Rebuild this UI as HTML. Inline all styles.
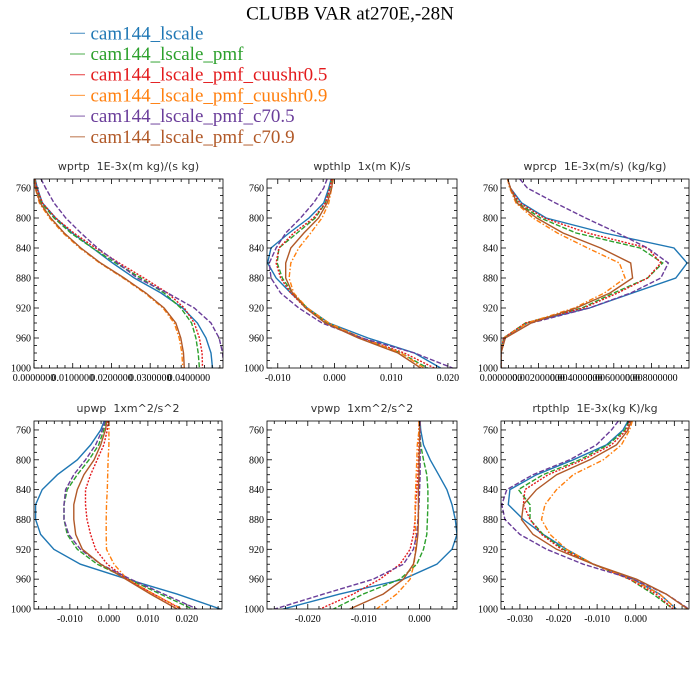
<!DOCTYPE html>
<html><head><meta charset="utf-8"><style>
html,body{margin:0;padding:0;background:#fff;width:700px;height:700px;overflow:hidden}
svg{display:block}
.tk{font-family:"Liberation Serif",serif;font-size:10px;fill:#000}
.pt{font-family:"DejaVu Sans","Liberation Sans",sans-serif;font-size:11px;fill:#333}
.lg{font-family:"Liberation Serif",serif;font-size:19px}
</style></head><body>
<svg id="chart" width="700" height="700" viewBox="0 0 700 700">
<text x="350" y="19.5" text-anchor="middle" font-family="Liberation Serif, serif" font-size="19">CLUBB VAR at270E,-28N</text>
<g id="legend"></g>
<g id="panels"></g>
</svg>
<script>
// Shared pressure levels (hPa)
const levels = [748,760,780,800,820,840,860,880,900,920,940,960,980,1000];
const seriesNames = ["cam144_lscale","cam144_lscale_pmf","cam144_lscale_pmf_cuushr0.5","cam144_lscale_pmf_cuushr0.9","cam144_lscale_pmf_c70.5","cam144_lscale_pmf_c70.9"];
// values in units of 1e-3
const wprtp_blue   = [0.3,0.86,2.16,5.6,9.9,15.1,20.3,25.9,32.8,38.4,42.2,44.4,45.7,46.1];
const wprtp_green  = [0.2,0.6,1.9,5.2,9.5,15.1,21.1,27.6,33.6,37.9,40.7,41.8,42.4,42.7];
const wprtp_red    = [0.2,0.7,2.2,5.6,10.3,15.9,22.0,28.4,34.5,38.8,41.4,42.7,43.4,43.5];
const wprtp_orange = [0.1,0.3,1.4,4.0,7.5,11.8,17.0,23.0,28.6,33.3,36.2,37.5,38.2,38.4];
const wprtp_purple = [1.8,3.0,5.2,8.2,12.1,16.4,21.6,26.7,34.5,41.4,45.7,47.8,48.7,49.0];
const wprtp_brown  = [0.1,0.4,1.6,4.3,7.8,12.1,17.2,23.3,28.9,33.6,36.6,37.9,38.6,38.8];

const wpthlp_blue   = [-0.6,-1.0,-1.9,-4.5,-8.0,-11.2,-11.8,-10.3,-7.7,-4.8,-1.0,5.9,14.1,18.7];
const wpthlp_green  = [-0.5,-0.8,-1.6,-3.4,-6.6,-9.8,-10.1,-9.2,-7.4,-4.8,-1.3,4.8,11.7,16.4];
const wpthlp_red    = [-0.5,-0.8,-1.6,-3.7,-7.2,-9.8,-10.3,-9.5,-7.7,-5.1,-1.6,4.8,12.3,17.6];
const wpthlp_orange = [-0.2,-0.5,-1.0,-2.2,-4.2,-6.3,-7.7,-8.0,-7.2,-4.8,-1.0,4.8,11.7,15.8];
const wpthlp_purple = [-1.3,-1.9,-3.7,-6.0,-8.6,-10.3,-11.5,-11.2,-9.5,-6.3,-2.2,4.8,14.1,20.8];
const wpthlp_brown  = [-0.3,-0.5,-1.3,-2.8,-5.4,-7.7,-8.6,-8.6,-7.4,-5.1,-1.6,4.2,11.2,15.2];

const wprcp_blue   = [0.35,0.5,1.1,2.4,5.5,9.2,9.9,9.3,7.0,4.7,1.4,0.14,0,0];
const wprcp_green  = [0.35,0.5,0.9,2.1,4.0,7.4,8.6,7.8,6.0,4.3,1.3,0.14,0,0];
const wprcp_red    = [0.35,0.5,1.0,2.3,4.6,7.8,8.5,7.8,6.2,4.4,1.3,0.14,0,0];
const wprcp_orange = [0.35,0.46,0.8,1.7,3.0,4.6,6.3,6.6,5.5,3.9,1.4,0.14,0,0];
const wprcp_purple = [1.0,1.4,2.9,4.5,6.2,7.8,8.9,8.5,6.9,4.7,1.6,0.2,0,0];
const wprcp_brown  = [0.35,0.5,0.85,1.9,3.3,5.3,6.9,7.0,5.8,4.0,1.6,0.23,0,0];

const upwp_blue   = [-1.2,-2.1,-4.7,-8.1,-13.2,-17.1,-18.8,-18.8,-17.5,-14.1,-7.3,4.7,17.5,28.6];
const upwp_green  = [-0.8,-1.3,-2.6,-5.1,-8.1,-10.7,-11.5,-11.5,-10.7,-8.1,-3.0,5.1,13.2,21.4];
const upwp_red    = [-0.2,-0.4,-1.3,-3.0,-4.7,-6.0,-6.0,-5.6,-4.7,-3.4,-0.4,4.7,11.5,18.4];
const upwp_orange = [0,0,0,-0.2,-0.3,-0.4,-0.6,-0.7,-0.7,-0.6,1.3,4.7,11.5,18.8];
const upwp_purple = [-1.0,-1.7,-3.4,-6.0,-9.0,-11.1,-11.5,-11.5,-10.3,-7.3,-2.1,5.6,14.1,22.6];
const upwp_brown  = [-0.5,-0.9,-2.1,-3.8,-6.4,-8.1,-9.0,-9.0,-8.5,-6.8,-2.1,4.3,10.7,17.5];

const vpwp_blue   = [0.1,0.2,0.7,1.9,3.4,4.9,5.8,6.4,6.7,5.8,3.1,-2.9,-14.3,-24.4];
const vpwp_green  = [0,0,0.2,0.7,1.3,1.5,1.5,1.4,1.3,0.7,-0.5,-3.5,-10.1,-15.4];
const vpwp_red    = [-0.1,-0.1,-0.1,-0.2,-0.3,-0.5,-0.7,-0.8,-1.1,-1.7,-3.5,-7.1,-11.9,-17.8];
const vpwp_orange = [-0.1,-0.1,-0.4,-0.5,-0.6,-0.7,-0.8,-0.8,-0.7,-0.7,-1.0,-1.7,-4.1,-7.7];
const vpwp_purple = [0.1,0.1,0.1,0.1,0.1,0,-0.1,-0.3,-0.5,-1.1,-2.9,-8.3,-17.2,-25.9];
const vpwp_brown  = [0,0,0,-0.1,-0.1,-0.2,-0.2,-0.2,-0.3,-0.6,-1.1,-2.9,-6.5,-12.5];

const rtpthlp_blue   = [-2.0,-3.3,-7.6,-16.2,-25.7,-32.6,-33.0,-29.1,-24.0,-17.9,-11.0,-0.7,6.2,10.5];
const rtpthlp_green  = [-1.8,-2.8,-7.2,-14.5,-24.0,-30.4,-27.4,-27.4,-24.0,-18.8,-11.0,-1.6,4.5,9.7];
const rtpthlp_red    = [-1.5,-2.4,-6.3,-13.6,-22.7,-28.7,-29.1,-27.4,-24.4,-19.2,-11.0,-1.6,5.3,9.7];
const rtpthlp_orange = [-0.9,-1.6,-3.7,-8.4,-16.2,-20.5,-23.5,-24.4,-22.2,-17.9,-11.0,-1.1,6.2,10.5];
const rtpthlp_purple = [-4.5,-6.3,-10.2,-17.1,-26.6,-33.4,-34.7,-33.9,-30.0,-23.1,-13.6,-0.7,7.9,13.8];
const rtpthlp_brown  = [-1.2,-2.0,-5.0,-11.9,-20.5,-25.7,-29.1,-29.6,-26.6,-20.5,-11.0,0.2,7.9,13.5];

const yTicks = [760,800,840,880,920,960,1000];
const xTicks1 = [0,10,20,30,40];
const xTickLabels1 = ["0.0000000","0.0100000","0.0200000","0.0300000","0.0400000"];
const xTicks2 = [-10,0,10,20];
const xTickLabels2 = ["-0.010","0.000","0.010","0.020"];
const xTicks3 = [0,2,4,6,8];
const xTickLabels3 = ["0.0000000","0.002000000","0.004000000","0.006000000","0.008000000"];
const xTicks4 = [-10,0,10,20];
const xTickLabels4 = ["-0.010","0.000","0.010","0.020"];
const xTicks5 = [-20,-10,0];
const xTickLabels5 = ["-0.020","-0.010","0.000"];
const xTicks6 = [-30,-20,-10,0];
const xTickLabels6 = ["-0.030","-0.020","-0.010","0.000"];

const colors = ["#1f77b4","#2ca02c","#e31a1c","#ff7f0e","#6a3d9a","#b15928"];
const dashes = ["", "5,2", "2,1.5", "5,2,1.5,2", "5,2", ""];
const NS = "http://www.w3.org/2000/svg";
function mk(tag, attrs, parent){const e=document.createElementNS(NS,tag);for(const k in attrs)e.setAttribute(k,attrs[k]);parent.appendChild(e);return e;}

const panels = [
 {name:"wprtp",title:"wprtp  1E-3x(m kg)/(s kg)",x0:34,x1:223,y0:179,y1:368,xmin:0,xmax:48.8,ticks:xTicks1,labels:xTickLabels1,
  data:[wprtp_blue,wprtp_green,wprtp_red,wprtp_orange,wprtp_purple,wprtp_brown]},
 {name:"wpthlp",title:"wpthlp  1x(m K)/s",x0:267,x1:457,y0:179,y1:368,xmin:-11.9,xmax:21.6,ticks:xTicks2,labels:xTickLabels2,
  data:[wpthlp_blue,wpthlp_green,wpthlp_red,wpthlp_orange,wpthlp_purple,wpthlp_brown]},
 {name:"wprcp",title:"wprcp  1E-3x(m/s) (kg/kg)",x0:501,x1:689,y0:179,y1:368,xmin:0,xmax:10.0,ticks:xTicks3,labels:xTickLabels3,
  data:[wprcp_blue,wprcp_green,wprcp_red,wprcp_orange,wprcp_purple,wprcp_brown]},
 {name:"upwp",title:"upwp  1xm^2/s^2",x0:34,x1:222,y0:421,y1:609,xmin:-19.2,xmax:29.0,ticks:xTicks4,labels:xTickLabels4,
  data:[upwp_blue,upwp_green,upwp_red,upwp_orange,upwp_purple,upwp_brown]},
 {name:"vpwp",title:"vpwp  1xm^2/s^2",x0:267,x1:457,y0:421,y1:609,xmin:-27.3,xmax:6.7,ticks:xTicks5,labels:xTickLabels5,
  data:[vpwp_blue,vpwp_green,vpwp_red,vpwp_orange,vpwp_purple,vpwp_brown]},
 {name:"rtpthlp",title:"rtpthlp  1E-3x(kg K)/kg",x0:501,x1:689,y0:421,y1:609,xmin:-34.9,xmax:13.8,ticks:xTicks6,labels:xTickLabels6,
  data:[rtpthlp_blue,rtpthlp_green,rtpthlp_red,rtpthlp_orange,rtpthlp_purple,rtpthlp_brown]}
];
const PMIN=748, PMAX=1000;
const root=document.getElementById("panels");
panels.forEach(p=>{
  const g=mk("g",{},root);
  
  
  const xs=v=>p.x0+(v-p.xmin)/(p.xmax-p.xmin)*(p.x1-p.x0);
  const ys=v=>p.y0+(v-PMIN)/(PMAX-PMIN)*(p.y1-p.y0);
  const t=mk("text",{x:(p.x0+p.x1)/2,y:p.y0-9,"text-anchor":"middle",class:"pt"},g);
  t.textContent=p.title.replace(/ /g,"\u00a0");
  
  
  const cid="clip-"+p.name;
  const cp=mk("clipPath",{id:cid},g);
  mk("rect",{x:p.x0,y:p.y0,width:p.x1-p.x0,height:p.y1-p.y0},cp);
  const lines=mk("g",{"clip-path":"url(#"+cid+")"},g);
  p.data.forEach((arr,i)=>{
    const pts=arr.map((v,j)=>xs(v).toFixed(1)+","+ys(levels[j]).toFixed(1)).join(" ");
    const pl=mk("polyline",{points:pts,fill:"none",stroke:colors[i],"stroke-width":1.4},lines);
    if(dashes[i])pl.setAttribute("stroke-dasharray",dashes[i]);
    
    
  });
  const fr=mk("rect",{x:p.x0,y:p.y0,width:p.x1-p.x0,height:p.y1-p.y0,fill:"none",stroke:"#000","stroke-width":0.8},g);
  
  
  for(let v=760;v<=1000;v+=10){
    const y=ys(v);const major=(v-760)%40===0;const L=major?5:3;
    mk("line",{x1:p.x0,x2:p.x0+L,y1:y,y2:y,stroke:"#000","stroke-width":0.8},g);
    mk("line",{x1:p.x1,x2:p.x1-L,y1:y,y2:y,stroke:"#000","stroke-width":0.8},g);
  }
  yTicks.forEach(v=>{
    const tt=mk("text",{x:p.x0-3,y:ys(v)+3.5,"text-anchor":"end",class:"tk"},g);
    tt.textContent=v;
    
    
  });
  const step=p.ticks[1]-p.ticks[0];
  for(let v=p.ticks[0]-step;v<=p.xmax;v+=step/5){
    if(v<p.xmin-1e-9)continue;
    const x=xs(v);const major=Math.abs(((v-p.ticks[0])/step)-Math.round((v-p.ticks[0])/step))<1e-6;const L=major?5:3;
    mk("line",{x1:x,x2:x,y1:p.y1,y2:p.y1-L,stroke:"#000","stroke-width":0.8},g);
    mk("line",{x1:x,x2:x,y1:p.y0,y2:p.y0+L,stroke:"#000","stroke-width":0.8},g);
  }
  p.ticks.forEach((v,i)=>{
    const tt=mk("text",{x:xs(v),y:p.y1+13,"text-anchor":"middle",class:"tk"},g);
    tt.textContent=p.labels[i];
    
    
  });
});
const lg=document.getElementById("legend");
seriesNames.forEach((n,i)=>{
  const y=39.3+i*20.7;
  const l=mk("line",{x1:70,x2:85,y1:y-6,y2:y-6,stroke:colors[i],"stroke-width":1.2,opacity:0.7},lg);
  
  
  const t=mk("text",{x:90.5,y:y,class:"lg",fill:colors[i]},lg);
  t.textContent=n;
  
  
});
</script>
</body></html>
